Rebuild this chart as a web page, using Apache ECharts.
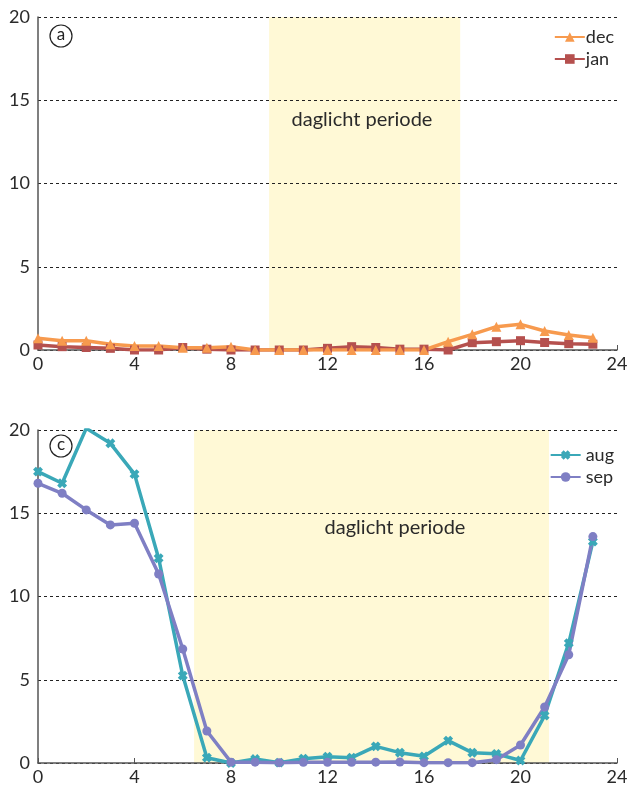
<!DOCTYPE html>
<html>
<head>
<meta charset="utf-8">
<script src="https://cdn.jsdelivr.net/npm/echarts@6/dist/echarts.min.js"></script>
<style>
  html, body { margin: 0; padding: 0; background: #fff; }
  #chart { width: 631px; height: 788px; }
</style>
</head>
<body>
<div id="chart"></div>
<script>
// uren van de dag
var hours = [0,1,2,3,4,5,6,7,8,9,10,11,12,13,14,15,16,17,18,19,20,21,22,23];

// paneel a
var decVals = [0.7,0.56,0.55,0.34,0.24,0.24,0.14,0.14,0.2,0,0,0,0,0,0,0,0,0.5,0.94,1.4,1.54,1.14,0.9,0.74];
var janVals = [0.3,0.2,0.15,0.1,0,0,0.15,0.05,0,0,0,0,0.1,0.2,0.15,0.05,0.05,0,0.44,0.5,0.56,0.45,0.38,0.35];
var daglichtA = [9.58, 17.5];

// paneel c
var augVals = [17.5,16.8,20.1,19.2,17.35,12.3,5.25,0.32,0,0.24,0.02,0.26,0.38,0.32,1.0,0.62,0.4,1.34,0.62,0.55,0.15,2.85,7.2,13.3];
var sepVals = [16.8,16.2,15.2,14.3,14.4,11.35,6.85,1.92,0.05,0.05,0.02,0.04,0.04,0.04,0.05,0.06,0.02,0.02,0.02,0.2,1.08,3.36,6.5,13.6];
var daglichtC = [6.47, 21.18];

var font = 'Lato';
var txt = '#2a2a2a';

function pairs(vals) {
    return hours.map(function (h, i) { return [h, vals[i]]; });
}

function xAx(idx) {
    return {
        type: 'value', gridIndex: idx, min: 0, max: 24, interval: 4, z: 2,
        axisLine: { lineStyle: { color: '#555', width: 1.5 } },
        axisTick: { show: true, inside: true, length: 5, lineStyle: { color: '#555' } },
        axisLabel: { color: txt, fontFamily: font, fontSize: 18, margin: 5 },
        splitLine: { show: false }
    };
}
function yAx(idx) {
    return {
        type: 'value', gridIndex: idx, min: 0, max: 20, interval: 5, z: 2,
        axisLine: { show: true, lineStyle: { color: '#555', width: 1.5 } },
        axisTick: { show: false },
        axisLabel: { color: txt, fontFamily: font, fontSize: 18, margin: 8 },
        splitLine: { lineStyle: { color: '#222', type: [3, 3], width: 1 } }
    };
}

function lijn(name, vals, idx, color, symbol, size, rotate) {
    return {
        name: name, type: 'line', xAxisIndex: idx, yAxisIndex: idx,
        data: pairs(vals),
        symbol: symbol, symbolSize: size, symbolRotate: rotate || 0,
        showAllSymbol: true,
        lineStyle: { color: color, width: 3.5 },
        itemStyle: { color: color },
        z: 4
    };
}

function vlak(idx, range) {
    return {
        type: 'line', xAxisIndex: idx, yAxisIndex: idx, data: [], z: 0,
        silent: true,
        markArea: {
            silent: true,
            itemStyle: { color: '#fff9d6' },
            data: [[{ xAxis: range[0] }, { xAxis: range[1] }]]
        }
    };
}

var plus = 'path://M3,0L7,0L7,3L10,3L10,7L7,7L7,10L3,10L3,7L0,7L0,3L3,3Z';

var option = {
    animation: false,
    backgroundColor: '#fff',
    grid: [
        { left: 38, right: 14, top: 17, height: 333 },
        { left: 38, right: 14, top: 430, height: 333 }
    ],
    xAxis: [xAx(0), xAx(1)],
    yAxis: [yAx(0), yAx(1)],
    legend: [
        {
            data: ['dec', 'jan'], orient: 'vertical', right: 12, top: 23,
            itemWidth: 30, itemHeight: 12, itemGap: 4,
            textStyle: { color: txt, fontFamily: font, fontSize: 18, padding: [0, 0, 0, -4] }
        },
        {
            data: ['aug', 'sep'], orient: 'vertical', right: 12, top: 441,
            itemWidth: 30, itemHeight: 12, itemGap: 4,
            textStyle: { color: txt, fontFamily: font, fontSize: 18 }
        }
    ],
    graphic: [
        { type: 'circle', shape: { cx: 61, cy: 36, r: 11 }, style: { fill: '#fff', stroke: '#222', lineWidth: 1.2 }, z: 10 },
        { type: 'text', x: 61, y: 35, style: { text: 'a', fill: '#222', font: '17px ' + font, align: 'center', verticalAlign: 'middle' }, z: 11 },
        { type: 'circle', shape: { cx: 61, cy: 446, r: 11 }, style: { fill: '#fff', stroke: '#222', lineWidth: 1.2 }, z: 10 },
        { type: 'text', x: 61, y: 445, style: { text: 'c', fill: '#222', font: '17px ' + font, align: 'center', verticalAlign: 'middle' }, z: 11 },
        { type: 'text', x: 362, y: 120, style: { text: 'daglicht periode', fill: txt, font: '20px ' + font, align: 'center', verticalAlign: 'middle' }, z: 11 },
        { type: 'text', x: 395, y: 528, style: { text: 'daglicht periode', fill: txt, font: '20px ' + font, align: 'center', verticalAlign: 'middle' }, z: 11 }
    ],
    series: [
        vlak(0, daglichtA),
        vlak(1, daglichtC),
        lijn('jan', janVals, 0, '#b5504e', 'rect', 9),
        lijn('dec', decVals, 0, '#f79a4e', 'triangle', 10),
        lijn('aug', augVals, 1, '#3aa8b8', plus, 10, 45),
        lijn('sep', sepVals, 1, '#7f7fc4', 'circle', 9)
    ]
};

var myChart = echarts.init(document.getElementById('chart'));
myChart.setOption(option);
</script>
</body>
</html>
